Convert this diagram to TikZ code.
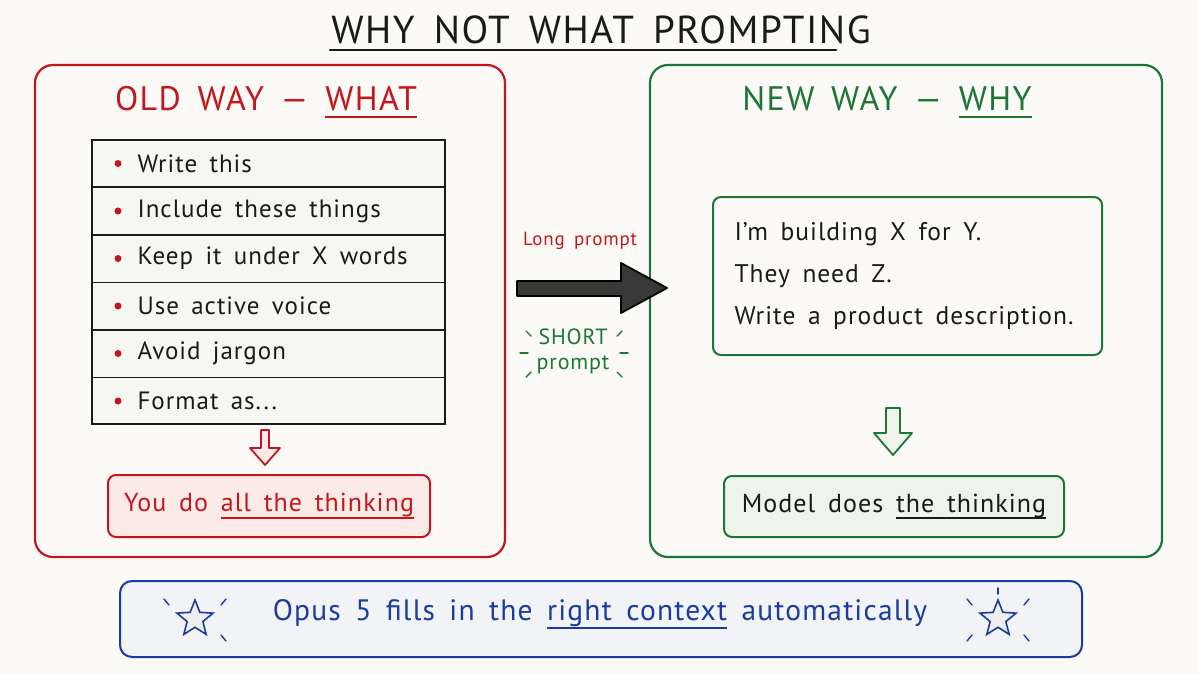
\documentclass[tikz,border=0pt]{standalone}
\usepackage{fontspec}
\setmainfont{PT Sans}[LetterSpace=4, WordSpace=1.6]
\usetikzlibrary{shapes.geometric}
\definecolor{myred}{HTML}{C4161F}
\definecolor{mygreen}{HTML}{1D7536}
\definecolor{myblue}{HTML}{1B3C9C}
\definecolor{bgcol}{HTML}{FBFAF6}
\definecolor{ink}{HTML}{1A1A1A}
\definecolor{redfill}{HTML}{FBEAE6}
\definecolor{greenfill}{HTML}{EEF3EC}
\definecolor{bluefill}{HTML}{F2F3F6}
\definecolor{listfill}{HTML}{F6F6F3}
\newcommand\myul[2][6pt]{\setbox0\hbox{#2}\rlap{\raisebox{-#1}{\rule{\wd0}{2pt}}}\box0\relax}
\newcommand\fs[1]{\fontsize{#1}{#1}\selectfont}
\begin{document}
\begin{tikzpicture}[x=1pt,y=-1pt,
  panel/.style={draw, line width=2.2pt, rounded corners=18pt, fill=bgcol},
  boxx/.style={draw, line width=2pt, rounded corners=8pt},
  item/.style={anchor=west, text=ink, font=\fs{25}},
  bul/.style={circle, fill=myred, inner sep=0pt, minimum size=7pt},
  tick/.style={line width=1.4pt, line cap=round},
  hollow/.style={line width=1.8pt, line join=round}]
\fill[bgcol] (0,0) rectangle (1199,675);
\useasboundingbox (0,0) rectangle (1199,675);

% title
\node[font=\fs{39}, text=ink] (title) at (601,30) {WHY NOT WHAT PROMPTING};
\draw[line width=2.6pt, ink, line cap=round] (330,50) -- (836,50);

% panels
\node[panel, draw=myred, minimum width=470pt, minimum height=492pt] (left) at (270,311) {};
\node[panel, draw=mygreen, minimum width=512pt, minimum height=492pt] (right) at (906,311) {};

% headings
\node[font=\fs{34}, text=myred] (oldh) at (266,102) {OLD WAY — \myul[8pt]{WHAT}};
\node[font=\fs{34}, text=mygreen] (newh) at (887,102) {NEW WAY — \myul[8pt]{WHY}};

% list
\node[draw=ink, line width=1.8pt, fill=listfill, minimum width=353pt, minimum height=284pt] (list) at (268.5,282) {};
\foreach \yy in {187,235,282.5,330,377.5}
  \draw[ink, line width=1.5pt] (93,\yy) -- (444,\yy);
\node[bul] (b1) at (118,163.5) {};
\node[bul] (b2) at (118,211) {};
\node[bul] (b3) at (118,258.5) {};
\node[bul] (b4) at (118,306) {};
\node[bul] (b5) at (118,353.5) {};
\node[bul] (b6) at (118,401) {};
\node[item] (i1) at (134,163.5) {Write this};
\node[item] (i2) at (134,211) {Include these things};
\node[item] (i3) at (134,258.5) {Keep it under X words};
\node[item] (i4) at (134,306) {Use active voice};
\node[item] (i5) at (134,353.5) {Avoid jargon};
\node[item] (i6) at (134,401) {Format as...};

% red result box
\node[boxx, draw=myred, fill=redfill, minimum width=322pt, minimum height=62pt, text=myred, font=\fs{26}] (you) at (269,506) {You do \myul[7pt]{all the thinking}};
\draw[hollow, draw=myred, fill=redfill] (261,430) -- (269,430) -- (269,448) -- (280,448) -- (265,465) -- (250,448) -- (261,448) -- cycle;

% middle
\node[text=myred, font=\fs{19}] (long) at (580,241) {Long prompt};
\draw[line width=1.8pt, fill=black!78, line join=round] (517,281) -- (621,281) -- (621,263) -- (667,288) -- (621,313) -- (621,296) -- (517,296) -- cycle;
\node[text=mygreen, font=\fs{22}] (short) at (573,337) {SHORT};
\node[text=mygreen, font=\fs{22}] (sprompt) at (573,365) {prompt};
\draw[tick, mygreen] (526,331) -- (531,336);
\draw[tick, mygreen] (520,353) -- (528,353);
\draw[tick, mygreen] (526,377) -- (531,372);
\draw[tick, mygreen] (622,331) -- (617,336);
\draw[tick, mygreen] (620,353) -- (628,353);
\draw[tick, mygreen] (622,377) -- (617,372);

% right inner box
\node[boxx, draw=mygreen, fill=bgcol, minimum width=389pt, minimum height=158pt] (inner) at (907.5,276) {};
\node[anchor=west, align=left, text=ink, font=\fontsize{25.5}{42}\selectfont] (msg) at (731,276) {I’m building X for Y.\\They need Z.\\Write a product description.};
\draw[hollow, draw=mygreen, fill=greenfill] (886,408) -- (900,408) -- (900,433) -- (912,433) -- (893,455) -- (874,433) -- (886,433) -- cycle;
\node[boxx, draw=mygreen, fill=greenfill, minimum width=340pt, minimum height=61pt, text=ink, font=\fs{26}] (model) at (894,506.5) {Model does \myul[7pt]{the thinking}};

% bottom banner
\node[boxx, draw=myblue, fill=bluefill, minimum width=962pt, minimum height=76pt, rounded corners=12pt] (banner) at (601,619) {};
\node[text=myblue, font=\fs{29.5}] (bt) at (600,614) {Opus 5 fills in the \myul[8pt]{right context} automatically};
\node[star, star points=5, star point ratio=2.3, minimum size=38pt, inner sep=0pt, draw=myblue, fill=bluefill!60!gray!30, line width=1.6pt] (s1) at (195,619) {};
\node[star, star points=5, star point ratio=2.3, minimum size=38pt, inner sep=0pt, draw=myblue, fill=bluefill!60!gray!30, line width=1.6pt] (s2) at (998,619) {};
\draw[tick, myblue] (164,599) -- (169,605);
\draw[tick, myblue] (226,599) -- (221,605);
\draw[tick, myblue] (221,635) -- (226,641);
\draw[tick, myblue] (967,599) -- (972,605);
\draw[tick, myblue] (1029,599) -- (1024,605);
\draw[tick, myblue] (998,588) -- (998,594);
\draw[tick, myblue] (972,635) -- (967,641);
\draw[tick, myblue] (1024,635) -- (1029,641);
\end{tikzpicture}
\end{document}
